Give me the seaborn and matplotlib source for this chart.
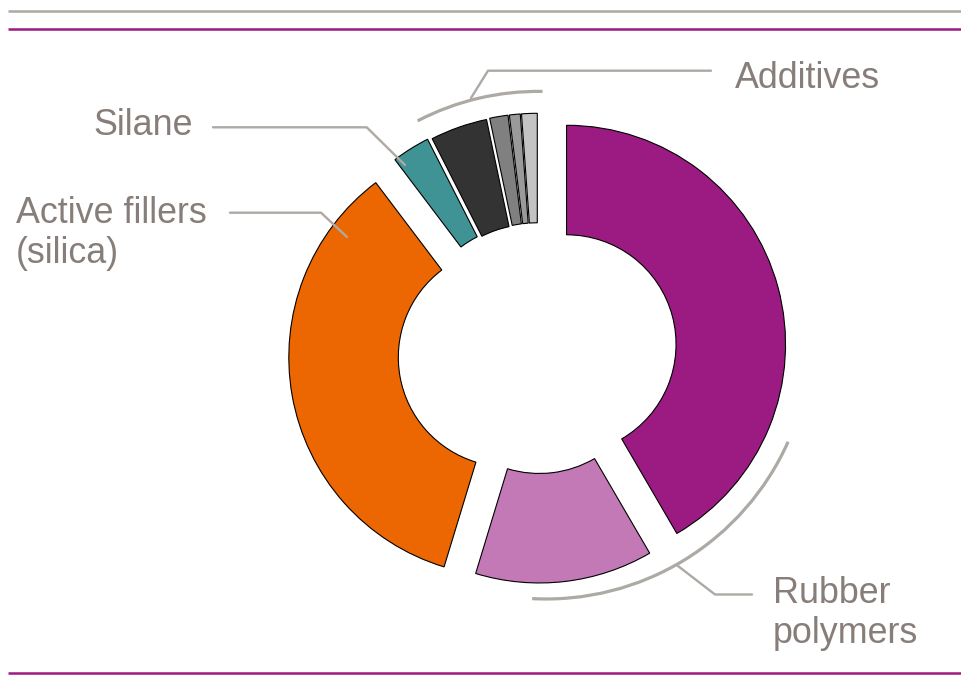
import numpy as np
import matplotlib
matplotlib.use("Agg")
import matplotlib.pyplot as plt
from matplotlib.patches import Arc
import seaborn as sns

# composition shares (%), clockwise from 12 o'clock
components = ["Rubber polymers A", "Rubber polymers B", "Active fillers (silica)",
              "Silane", "Additive 1", "Additive 2", "Additive 3", "Additive 4"]
shares = [41.6, 13.1, 35.0, 2.8, 4.2, 1.35, 0.8, 1.15]
colors = ["#9B1B83", "#C279B5", "#EC6602", "#3F9395",
          "#333333", "#808080", "#9A9A9A", "#C3C3C3"]
explode = [0.135, 0.055, 0.14, 0.095, 0.088, 0.09, 0.09, 0.09]

GREY = "#ADA9A4"
TXT = "#877E79"
PURPLE = "#9B1B83"

sns.set_theme(style="white")
plt.rcParams["font.family"] = ["Liberation Sans", "DejaVu Sans"]

W, H, R = 962, 688, 219.0
CX, CY = 538, 352


def px(x, y):
    # pixel position (from top-left) -> data units (pie radius = 1)
    return (x - CX) / R, (CY - y) / R


fig = plt.figure(figsize=(W / 100, H / 100), dpi=100)
ax = fig.add_axes([0, 0, 1, 1])

ax.pie(shares, colors=colors, explode=explode, startangle=90, counterclock=False,
       radius=1, wedgeprops=dict(width=0.5, edgecolor="black", linewidth=0.8))

ax.set_aspect("auto")
ax.set_xlim(-CX / R, (W - CX) / R)
ax.set_ylim(-(H - CY) / R, CY / R)
ax.axis("off")

# header / footer rules
for y, c in [(10.7, GREY), (29.3, PURPLE), (672.5, PURPLE)]:
    x0, yy = px(8, y)
    x1, _ = px(W, y)
    ax.plot([x0, x1], [yy, yy], color=c, lw=1.8, solid_capstyle="butt")

# bracket arcs
cum = np.cumsum([0] + shares) * 3.6
add_start, add_end = cum[4] - 0.5, cum[-1] + 1.0
ax.add_patch(Arc((0, 0), 2 * 1.19, 2 * 1.19, theta1=90 - add_end, theta2=90 - add_start,
                 color=GREY, lw=2.3))
rc = px(546, 334)
ax.add_patch(Arc(rc, 2 * 1.21, 2 * 1.21, theta1=90 - 183, theta2=90 - 114,
                 color=GREY, lw=2.3))

# leader lines
leaders = [
    [(711, 70.7), (488, 70.7), (471, 98)],
    [(213, 127.3), (366.7, 127.3), (405, 165)],
    [(230, 212.7), (321, 212.7), (347, 237)],
    [(676.7, 565), (715, 594.5), (752, 594.5)],
]
for pts in leaders:
    xy = np.array([px(*p) for p in pts])
    ax.plot(xy[:, 0], xy[:, 1], color=GREY, lw=1.7)

# (text, left x, baseline of last line)
labels = [
    ("Additives", 735, 88.3),
    ("Silane", 93, 135),
    ("Active fillers\n(silica)", 16, 263),
    ("Rubber\npolymers", 773, 643),
]
for txt, x, y in labels:
    tx, ty = px(x, y)
    ax.text(tx, ty, txt, color=TXT, fontsize=25.8, ha="left", va="baseline",
            linespacing=1.2)

fig.savefig("out.png", dpi=100)
